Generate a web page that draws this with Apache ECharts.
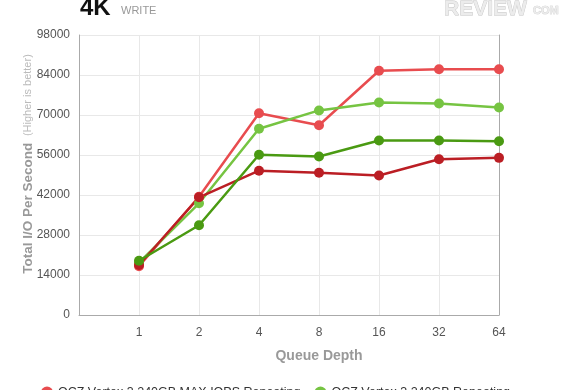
<!DOCTYPE html>
<html>
<head>
<meta charset="utf-8">
<script src="https://cdn.jsdelivr.net/npm/echarts@6/dist/echarts.min.js"></script>
<style>html,body{margin:0;padding:0;background:#fff}#c{width:580px;height:390px}</style>
</head>
<body>
<div id="c"></div>
<script>
const categories = ['', '1', '2', '4', '8', '16', '32', '64'];
const seriesNames = ['OCZ Vertex 3 240GB MAX IOPS Repeating', 'OCZ Vertex 3 240GB Repeating', 'OCZ Vertex 3 240GB MAX IOPS', 'OCZ Vertex 3 240GB'];
const maxIopsRepeating = [null, 17100, 41400, 70600, 66400, 85500, 86000, 86000];
const repeating = [null, 18300, 39100, 65200, 71600, 74400, 74000, 72600];
const maxIops = [null, 17500, 41200, 50500, 49800, 48800, 54500, 55000];
const plain = [null, 19000, 31400, 56100, 55500, 61100, 61100, 60800];
const yTicks = {min: 0, max: 98000, interval: 14000};
const colors = ['#e84c4f', '#76c442', '#bb1e24', '#4a9a12'];

const chart = echarts.init(document.getElementById('c'), null, {renderer: 'canvas'});
const values = [maxIopsRepeating, repeating, maxIops, plain];
const font = 'Helvetica, Arial, "Liberation Sans", sans-serif';
chart.setOption({
  animation: false,
  textStyle: {fontFamily: font},
  color: colors,
  graphic: [
    {type: 'text', x: 80, y: 8, style: {text: '4K', fontSize: 24, fontWeight: 'bold', fill: '#111', fontFamily: font, verticalAlign: 'middle'}},
    {type: 'text', x: 121, y: 10.5, style: {text: 'WRITE', fontSize: 11, fill: '#999', fontFamily: font, verticalAlign: 'middle'}},
    {type: 'text', x: 444, y: 9, style: {text: 'REVIEW', fontSize: 21, fontWeight: 'bold', fill: '#ececec', stroke: '#c4c4c4', lineWidth: 0.8, fontFamily: font, verticalAlign: 'middle'}},
    {type: 'text', x: 533, y: 11, style: {text: 'COM', fontSize: 11, fontWeight: 'bold', fill: '#ececec', stroke: '#c4c4c4', lineWidth: 0.6, fontFamily: font, verticalAlign: 'middle'}},
    {type: 'text', x: 319, y: 356, style: {text: 'Queue Depth', fontSize: 14, fontWeight: 'bold', fill: '#999', fontFamily: font, align: 'center', verticalAlign: 'middle'}},
    {type: 'text', x: 28, y: 164, rotation: Math.PI / 2, style: {
      text: '{a|Total I/O Per Second}  {b|(Higher is better)}',
      align: 'center', verticalAlign: 'middle',
      rich: {a: {fontSize: 13.5, fontWeight: 'bold', fill: '#999', color: '#999', fontFamily: font}, b: {fontSize: 11, fill: '#bbb', color: '#bbb', fontFamily: font}}
    }}
  ],
  grid: {left: 79, right: 81, top: 35, bottom: 75, containLabel: false},
  legend: {
    data: seriesNames,
    left: 36, top: 381, width: 520,
    icon: 'circle', itemWidth: 12, itemHeight: 12, itemGap: 14,
    textStyle: {fontSize: 12.5, color: '#333', fontFamily: font}
  },
  xAxis: {
    type: 'category', data: categories, boundaryGap: false,
    axisLine: {lineStyle: {color: '#aaa', width: 1}},
    axisTick: {show: false},
    axisLabel: {color: '#555', fontSize: 12, margin: 12},
    splitLine: {show: true, lineStyle: {color: '#e8e8e8'}}
  },
  yAxis: [{
    type: 'value', min: yTicks.min, max: yTicks.max, interval: yTicks.interval,
    axisLine: {show: true, lineStyle: {color: '#aaa'}},
    axisTick: {show: false},
    axisLabel: {color: '#555', fontSize: 12, margin: 9, formatter: v => String(v)},
    splitLine: {show: true, lineStyle: {color: '#e8e8e8'}}
  }, {
    type: 'value', min: yTicks.min, max: yTicks.max, interval: yTicks.interval, position: 'right',
    axisLine: {show: true, lineStyle: {color: '#aaa'}},
    axisTick: {show: false}, axisLabel: {show: false}, splitLine: {show: false}
  }],
  series: seriesNames.map((n, i) => ({
    name: n, type: 'line', data: values[i],
    symbol: 'circle', symbolSize: 10, showSymbol: true,
    lineStyle: {width: 2.5, color: colors[i]},
    itemStyle: {color: colors[i]}
  }))
});
</script>
</body>
</html>
